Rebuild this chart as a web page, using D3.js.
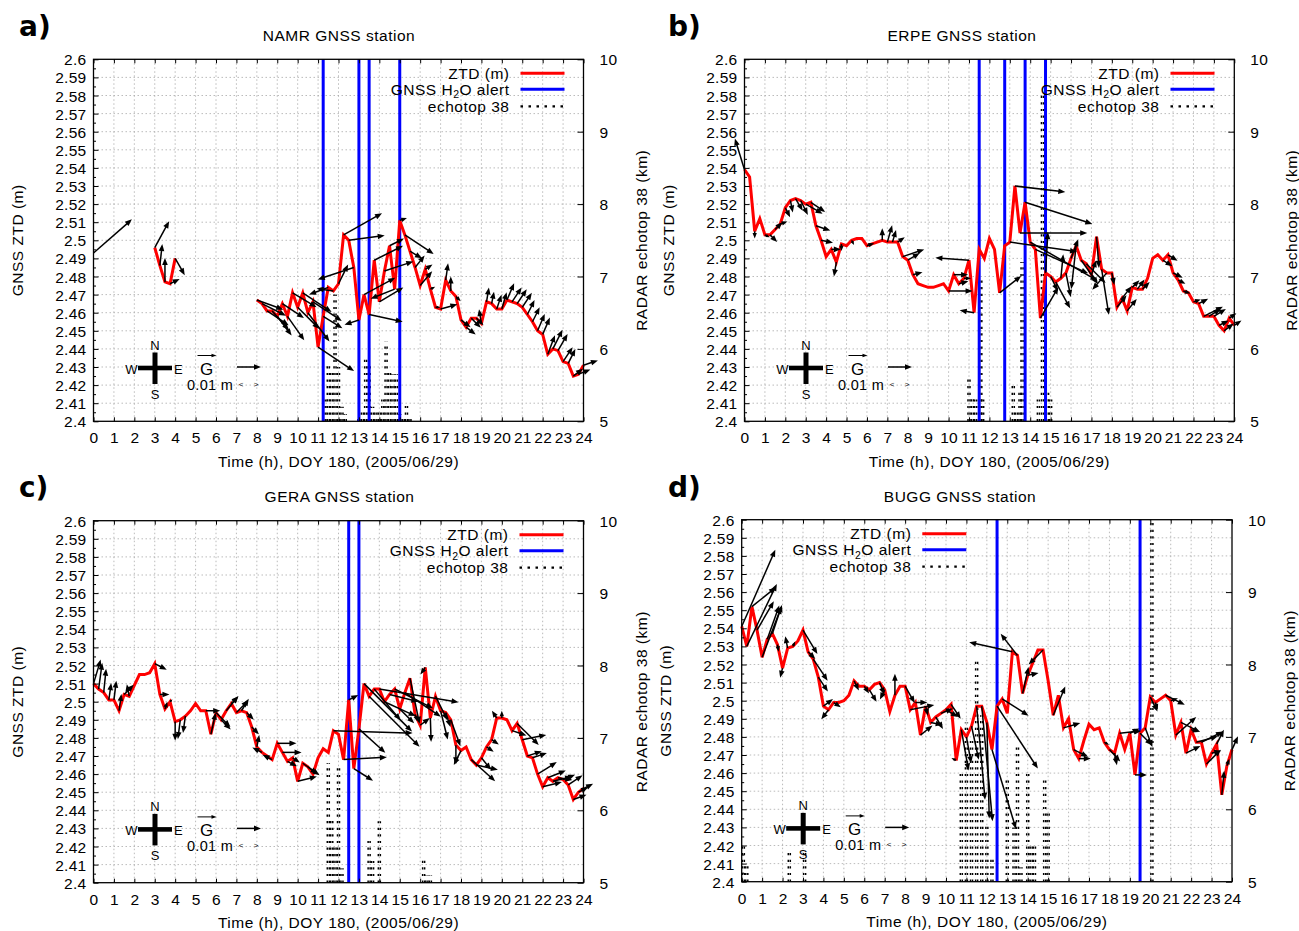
<!DOCTYPE html>
<html><head><meta charset="utf-8">
<script src="https://cdn.jsdelivr.net/npm/d3@7"></script>
<style>
body{margin:0;background:#fff;}
svg{display:block;}
</style></head><body>
<svg id="chart" width="1299" height="931"></svg>
<script>
// ---------------- DATA ----------------
// 15-minute sampling, 0h .. 24h (97 epochs)
const hours = d3.range(0, 97).map(i => i * 0.25);
const xTicks = d3.range(0, 25);
const yTicks = d3.range(0, 21).map(i => +(2.4 + i * 0.01).toFixed(2));
const yMinorTicks = d3.range(0, 20).map(i => +(2.405 + i * 0.01).toFixed(3));
const y2Ticks = [5, 6, 7, 8, 9, 10];

// NAMR
const namrZTD = [2.493,
 null,null,null,null,null,null,null,null,null,null,null,
 2.496,2.486,2.477,2.476,2.490,
 null,null,null,null,null,null,null,null,null,null,null,null,null,null,null,
 2.467,2.465,2.461,2.461, 2.458,2.465,2.458,2.471, 2.463,2.471,2.460,2.466,
 2.441,2.458,2.474,2.472, 2.476,2.503,2.500,2.485, 2.456,2.470,2.459,2.489,
 2.466,2.483,2.497,2.473, 2.511,2.503,2.494,2.485, 2.475,2.484,2.473,2.463,
 2.462,2.478,2.472,2.469, 2.456,2.452,2.457,2.457, 2.454,2.466,2.465,2.462,
 2.462,2.467,2.466,2.465, 2.463,2.459,2.455,2.450, 2.448,2.437,2.440,2.439,
 2.433,2.432,2.425,2.426, 2.431];
const namrGradE = [16, 0,0,0,0,0,0,0,0,0,0,0, 6,1,0,4,4, 0,0,0,0,0,0,0,0,0,0,0,0,0,0,0,
 11,10,9,7, 6,9,7,10, 9,12,9,12, 15,8,-8,-7, 4,16,15,-15, -6,13,14,12,
 10,12,6,-10, 3,12,5,4, 5,3,2,2, 7,1,0,2, 4,4,4,3, -1,1,1,2,
 2,3,4,4, 4,3,3,3, 3,3,4,4, 4,3,4,5, 6];
const namrGradN = [14, 0,0,0,0,0,0,0,0,0,0,0, 11,9,10,2,-7, 0,0,0,0,0,0,0,0,0,0,0,0,0,0,0,
 -4,-5,-6,-8, -8,-6,-10,-6, -9,-8,-12,-8, -10,-5,-3,1, 8,9,2,-5, -2,7,-3,6,
 6,4,3,-4, 1,-8,-3,5, 6,2,1,0, 2,7,6,-2, -3,-3,-4,-3, 6,6,5,6,
 7,7,6,6, 6,6,6,7, 7,8,8,7, 6,6,3,2, 2];
const namrEchoH  = [11.33,11.5,11.67,11.83,12.0,12.17,12.33,13.0,13.17,13.33,13.5,13.67,13.83,14.0,14.17,14.33,14.5,14.67,14.83,15.0,15.17,15.33,15.5];
const namrEchoKm = [5.3,5.8,5.7,6.75,5.75,5.2,5.1,5.05,5.15,5.9,5.8,5.2,5.15,5.15,5.3,6.1,5.7,5.65,5.65,5.1,5.05,5.25,5.05];
const namrAlerts = [11.25, 13.0, 13.5, 15.0];

// ERPE
const erpeZTD = [2.539,2.535,2.505,2.512, 2.503,2.503,2.506,2.509, 2.518,2.522,2.523,2.522,
 2.520,2.521,2.508,2.500, 2.491,2.495,2.488,2.498, 2.497,2.500,2.501,2.501,
 2.497,2.498,2.499,2.500, 2.499,2.499,2.499,2.491, 2.489,2.481,2.476,2.475,
 2.474,2.474,2.475,2.476, 2.472,2.481,2.476,2.479, 2.489,2.460,2.495,2.490,
 2.501,2.495,2.471,2.497, 2.499,2.530,2.504,2.521, 2.499,2.495,2.457,2.482,
 2.480,2.477,2.479,2.482, 2.490,2.497,2.489,2.487, 2.481,2.502,2.484,2.482,
 2.482,2.463,2.468,2.461, 2.474,2.473,2.473,2.479, 2.490,2.492,2.489,2.492,
 2.482,2.478,2.472,2.471, 2.466,2.465,2.458,2.458, 2.458,2.453,2.450,2.457, 2.453];
const erpeGradE = [-4,0,0,0, 2,3,3,3, 2,1,3,3, 7,6,6,5, 0,4,-1,0, 0,1,0,0,
 3,0,0,0, 2,1.5,3,9, 5,4,0,0, 0,0,0,0, 10,6,4,3, -14,-6,0,0,
 0,0,9,0, 28,21,28,28, 28,22,7.5,1, 3,6,1,2, 3,-2,7,8, 2,1,3,-6,
 1,4,4,4, 3,3,3,0, 0,0,4,4, 4,3,3,0, 3,4,8,5, 5,4,4,3, 3];
const erpeGradN = [13,0,-3,0, -1,-3,3,1, -4,-5,-5,-6, -4,-4,-2,-1, 0,0,-6,-3, 0,-2,0,0,
 1,0,0,5, 7,5,2,3, 3,1,0,0, 0,0,0,0, 0,0,1,0, 1,1,0,0,
 0,0,7,0, -4,-2.5,0,-9, -16,-10,13,17, -6,-11,10,-10, 8,-18,-10,-8, 6,-13,-19,-7,
 -5,5,5,5, 3,4,3,0, 0,0,-2.5,-2.5, -2,-1.5,-1,0, 1,2,4,3, 3,2,3,2, 2];
const erpeEchoH  = [11.0,11.17,11.33,11.58,11.67,13.17,13.33,13.5,13.6,14.4,14.6,14.85,15.0];
const erpeEchoKm = [5.6,5.35,5.3,7.0,5.3,5.5,5.15,5.4,7.2,5.3,9.5,5.4,5.3];
const erpeAlerts = [11.5, 12.75, 13.75, 14.75];

// GERA
const geraZTD = [2.510,2.507,2.505,2.501, 2.501,2.495,2.504,2.503, 2.509,2.515,2.515,2.516,
 2.521,2.504,2.496,2.500, 2.489,2.490,2.492,2.495, 2.499,2.495,2.495,2.482,
 2.494,2.490,2.495,2.499, 2.494,2.495,2.494,2.486, 2.475,2.472,2.470,2.468,
 2.477,2.472,2.467,2.469, 2.456,2.466,2.464,2.460, 2.469,2.474,2.472,2.484,
 2.482,2.468,2.501,2.463, 2.485,2.510,2.503,2.507, 2.507,2.500,2.504,2.507,
 2.496,2.505,2.513,2.493, 2.487,2.519,2.491,2.503, 2.495,2.494,2.490,2.476,
 2.473,2.475,2.468,2.465, 2.469,2.475,2.479,2.491, 2.491,2.490,2.484,2.488,
 2.479,2.470,2.469,2.460, 2.453,2.458,2.456,2.458, 2.457,2.454,2.446,2.450, 2.452];
const geraGradE = [3,1.5,1,1, 1,1,4,-1, 0,0,0,0, 5,4,1,1, 0,-1,-1,0, 0,0,6,2,
 6,4,5,3, 5,3,3,3, 1,-4,0,-4, 8,8,4,3, 8,7,4,0, 0,0,0,33,
 0,18,4,8, 11,20,21,11, 33,13,12,16, 6,15,4,1, 4,-2,0.3,5, 3,2,4,0,
 -3,0,10,9, 4,3,3,-2, 0,0,6,9, 10,6,6,8, 8,7.5,8,6, 5,6,5.5,4, 4];
const geraGradN = [10,11,10,7, 8,7,4,5, 0,0,0,0, -2.5,0,3,1, -8,-8,-7,0, 0,0,0,9,
 -6,-4,6,3, 5,5,-3,-3, 5,2,0,2, 0,0,-2,-2, 2,-5,-3,0, 0,0,0,-1,
 0,1,2,-5, -10,-20,-21,-13, -5.5,-6,-3,-8, -6,-10,-19,-3, 3,-3,-10,-10, -12,-6,-11,-8,
 -6,0,-9,-2, -5,-2,-2,3, 3,0,-2,-9, 2,2,2,5, 2,3,2,-1, 2,4,2,2, 2];
const geraEchoH  = [11.5,11.67,11.83,12.0,12.17,13.5,13.67,14.0,16.17,16.33,16.5];
const geraEchoKm = [6.65,5.9,5.5,6.6,5.2,5.6,5.3,5.85,5.35,5.1,5.1];
const geraAlerts = [12.5, 13.0];

// BUGG
const buggZTD = [2.541,2.530,2.552,2.539, 2.524,2.534,2.537,2.531, 2.518,2.529,2.530,2.533,
 2.539,2.527,2.523,2.513, 2.497,2.495,2.499,2.499, 2.500,2.503,2.511,2.508,
 2.508,2.506,2.509,2.510, 2.506,2.494,2.503,2.508, 2.508,2.495,2.499,2.481,
 2.497,2.488,2.491,2.493, 2.495,2.498,2.467,2.484, 2.480,2.486,2.497,2.497,
 2.488,2.473,2.497,2.501, 2.493,2.527,2.525,2.504, 2.514,2.521,2.528,2.528,
 2.511,2.492,2.503,2.485, 2.490,2.473,2.468,2.478, 2.487,2.484,2.485,2.477,
 2.473,2.471,2.482,2.473, 2.482,2.459,2.482,2.485, 2.502,2.499,2.501,2.503,
 2.500,2.481,2.488,2.471, 2.484,2.477,2.477,2.465, 2.471,2.476,2.448,2.464, 2.473];
const buggGradE = [14,12.5,10,7, 8,5,4,0.5, -1,-1,1,0, 6,3,6,4, 4,-3,3,0, 0,0,2,0,
 2,3,0,2, -2,0,0,0, 4,10,5,5, 1,5,3,5, 5,4,-2,3, 2,3,3.5,4.5,
 1,10,17,11, 0,-18,-7,2.5, 4.5,0,0,-6, 0,5,0,7, 0,6,5,0, 0,0,0,2,
 4.5,1,9,0, 4,5,5,3, 3,1,0,8, 3,8.5,8,6, 3,9,9,6, 4,3,1,1, 2.5];
const buggGradN = [32,26,8,12, 21,14,12,-3, -4,5,2,0, -10,-3,-9,-6, 3,-4,-2,0, 0,0,-4,0,
 -3,-5,0,-5, -4,0,9,0, -7,2,0,4, -4,-1,-5,2, -3,-6,1,-17, -11,-14,-39,-48,
 -40,-33,-26,-7, 0,4,9,11, 1,0,0,-6, 0,12,0,2, 0,-3,0,0, 0,0,0,-1,
 -5,-5,1,0, 2,0,-5,-8, -6,-3,0,-4, 1,7.5,-4,3, -1,2.5,4.5,6, 1,6,10,3, 5.5];
const buggEchoH  = [0.08,0.25,2.33,3.08,10.75,11.0,11.25,11.5,11.75,12.0,12.25,13.0,13.33,13.5,13.67,14.0,14.17,14.33,14.83,15.0,20.08];
const buggEchoKm = [5.5,5.25,5.4,5.45,6.5,7.2,7.0,8.1,7.3,5.8,5.35,6.45,5.75,6.9,5.2,6.5,5.5,5.5,6.45,6.0,10.0];
const buggAlerts = [12.5, 19.5];

const legendLabels = ["ZTD (m)", "GNSS H2O alert", "echotop 38"];

// ---------------- LAYOUT ----------------
const panels = [
  {label:"a)", title:"NAMR GNSS station", ztd:namrZTD, gE:namrGradE, gN:namrGradN, eH:namrEchoH, eK:namrEchoKm, alerts:namrAlerts,
   box:{l:93.5,r:583.5,t:59.3,b:421.3}, lab:[19,36], titleX:339, titleY:41, legX:416},
  {label:"b)", title:"ERPE GNSS station", ztd:erpeZTD, gE:erpeGradE, gN:erpeGradN, eH:erpeEchoH, eK:erpeEchoKm, alerts:erpeAlerts,
   box:{l:744.5,r:1234.3,t:59.3,b:421.3}, lab:[668,36], titleX:962, titleY:41, legX:415},
  {label:"c)", title:"GERA GNSS station", ztd:geraZTD, gE:geraGradE, gN:geraGradN, eH:geraEchoH, eK:geraEchoKm, alerts:geraAlerts,
   box:{l:93.5,r:583.5,t:520.7,b:882.7}, lab:[19,497], titleX:339.5, titleY:502, legX:415},
  {label:"d)", title:"BUGG GNSS station", ztd:buggZTD, gE:buggGradE, gN:buggGradN, eH:buggEchoH, eK:buggEchoKm, alerts:buggAlerts,
   box:{l:741.7,r:1232,t:519.7,b:881.7}, lab:[668,497], titleX:960, titleY:502, legX:169.6}
];

const FONT = '"Liberation Sans", Arial, Helvetica, sans-serif';
const FS = 15.5, LS = 0.5;
const svg = d3.select('#chart');

function drawArrow(sel, x1, y1, x2, y2, hl, hw, sw) {
  const dx = x2 - x1, dy = y2 - y1, len = Math.hypot(dx, dy);
  if (len < 0.5) return;
  const ux = dx / len, uy = dy / len;
  const h = Math.min(hl, len * 0.75), w = hw * h / hl;
  const bx = x2 - ux * h, by = y2 - uy * h;
  sel.append('line').attr('x1', x1).attr('y1', y1).attr('x2', bx + ux).attr('y2', by + uy)
    .attr('stroke', '#000').attr('stroke-width', sw);
  sel.append('path').attr('d', `M${x2},${y2}L${bx - uy * w},${by + ux * w}L${bx + uy * w},${by - ux * w}Z`)
    .attr('fill', '#000');
}

function styleText(s, size, ls) {
  s.attr('font-family', FONT).attr('font-size', size).attr('fill', '#000')
   .attr('letter-spacing', ls == null ? LS : ls);
}

function drawPanel(p) {
  const {l, r, t, b} = p.box;
  const g = svg.append('g');
  const x = d3.scaleLinear().domain([0, 24]).range([l, r]);
  const y = d3.scaleLinear().domain([2.4, 2.6]).range([b, t]);
  const y2 = d3.scaleLinear().domain([5, 10]).range([b, t]);
  const gs = d3.scaleLinear().domain([0, 10]).range([0, 24]); // gradient mm -> px (0.01 m reference)

  // grid
  const grid = g.append('g').attr('stroke', '#aaaaaa').attr('stroke-width', 0.8).attr('stroke-dasharray', '1.5,2.5');
  grid.selectAll('.vg').data(xTicks.filter(d => d > 0 && d < 24)).join('line')
    .attr('x1', d => x(d)).attr('x2', d => x(d)).attr('y1', t).attr('y2', b);
  grid.selectAll('.hg').data(yTicks.filter(d => d > 2.4 && d < 2.6)).join('line')
    .attr('x1', l).attr('x2', r).attr('y1', d => y(d)).attr('y2', d => y(d));

  // echotop impulses (dotted)
  const eg = g.append('g');
  p.eH.forEach((h, i) => {
    [-1.0, 1.0].forEach(off => {
      eg.append('line').attr('x1', x(h) + off).attr('x2', x(h) + off)
        .attr('y1', y2(5)).attr('y2', y2(p.eK[i]))
        .attr('stroke', '#000').attr('stroke-width', 1.5).attr('stroke-dasharray', '2.2,4.4');
    });
  });

  // alerts
  g.append('g').selectAll('line').data(p.alerts).join('line')
    .attr('x1', d => x(d)).attr('x2', d => x(d)).attr('y1', t).attr('y2', b)
    .attr('stroke', '#0000ff').attr('stroke-width', 3);

  // ZTD
  const pts = hours.map((h, i) => ({h, v: p.ztd[i], e: p.gE[i], n: p.gN[i]}));
  g.append('path').datum(pts)
    .attr('d', d3.line().defined(d => d.v != null).x(d => x(d.h)).y(d => y(d.v)))
    .attr('fill', 'none').attr('stroke', '#ff0000').attr('stroke-width', 3).attr('stroke-linejoin', 'miter');

  // gradient arrows
  const ag = g.append('g');
  pts.forEach(d => {
    if (d.v == null || (d.e === 0 && d.n === 0)) return;
    const x1 = x(d.h), y1 = y(d.v);
    drawArrow(ag, x1, y1, x1 + gs(d.e), y1 - gs(d.n), 7, 2.8, 1.5);
  });

  // border
  g.append('rect').attr('x', l).attr('y', t).attr('width', r - l).attr('height', b - t)
    .attr('fill', 'none').attr('stroke', '#000').attr('stroke-width', 1.3);

  // axes
  const ax = g.append('g').attr('transform', `translate(0,${b})`)
    .call(d3.axisBottom(x).tickValues(xTicks).tickSize(-4).tickPadding(0).tickFormat(d3.format('d')));
  ax.select('.domain').remove();
  styleText(ax.selectAll('text').attr('y', 22).attr('dy', null), FS, 0.2);

  const axT = g.append('g').attr('transform', `translate(0,${t})`)
    .call(d3.axisTop(x).tickValues(xTicks).tickSize(-4).tickFormat(''));
  axT.select('.domain').remove();

  const ay = g.append('g').attr('transform', `translate(${l},0)`)
    .call(d3.axisLeft(y).tickValues(yTicks).tickSize(-5).tickPadding(7).tickFormat(d => String(+d.toFixed(2))));
  ay.select('.domain').remove();
  styleText(ay.selectAll('text').attr('dy', '0.36em'), FS, 0.3);

  const aym = g.append('g').attr('transform', `translate(${l},0)`)
    .call(d3.axisLeft(y).tickValues(yMinorTicks).tickSize(-2.5).tickFormat(''));
  aym.select('.domain').remove();

  const ay2 = g.append('g').attr('transform', `translate(${r},0)`)
    .call(d3.axisRight(y2).tickValues(y2Ticks).tickSize(-6).tickPadding(16).tickFormat(d3.format('d')));
  ay2.select('.domain').remove();
  styleText(ay2.selectAll('text').attr('dy', '0.36em'), FS, 0.3);

  // axis titles
  const cx = (l + r) / 2, cy = (t + b) / 2;
  styleText(g.append('text').attr('x', cx).attr('y', b + 45.5).attr('text-anchor', 'middle')
    .text('Time (h), DOY 180, (2005/06/29)'), FS);
  styleText(g.append('text').attr('transform', `translate(${l - 70.5},${cy}) rotate(-90)`)
    .attr('text-anchor', 'middle').text('GNSS ZTD (m)'), FS);
  styleText(g.append('text').attr('transform', `translate(${r + 63},${cy}) rotate(-90)`)
    .attr('text-anchor', 'middle').text('RADAR echotop 38 (km)'), FS);

  // title & panel label
  styleText(g.append('text').attr('x', p.titleX).attr('y', p.titleY).attr('text-anchor', 'middle').text(p.title), FS);
  g.append('text').attr('x', p.lab[0]).attr('y', p.lab[1]).text(p.label)
    .attr('font-family', '"DejaVu Sans", sans-serif').attr('font-weight', 'bold').attr('font-size', 28).attr('fill', '#000');

  // legend
  const lx = l + p.legX;
  const rows = [t + 14, t + 30, t + 47];
  const lt1 = g.append('text').attr('x', lx).attr('y', rows[0] + 5.5).attr('text-anchor', 'end').text(legendLabels[0]);
  styleText(lt1, FS);
  const lt2 = g.append('text').attr('x', lx).attr('y', rows[1] + 5.5).attr('text-anchor', 'end');
  styleText(lt2, FS);
  lt2.append('tspan').text('GNSS H');
  lt2.append('tspan').attr('dy', 3.5).attr('font-size', 10.5).text('2');
  lt2.append('tspan').attr('dy', -3.5).text('O alert');
  const lt3 = g.append('text').attr('x', lx).attr('y', rows[2] + 5.5).attr('text-anchor', 'end').text(legendLabels[2]);
  styleText(lt3, FS);
  g.append('line').attr('x1', lx + 11).attr('x2', lx + 55).attr('y1', rows[0]).attr('y2', rows[0])
    .attr('stroke', '#ff0000').attr('stroke-width', 3);
  g.append('line').attr('x1', lx + 11).attr('x2', lx + 55).attr('y1', rows[1]).attr('y2', rows[1])
    .attr('stroke', '#0000ff').attr('stroke-width', 3);
  g.append('line').attr('x1', lx + 11).attr('x2', lx + 55).attr('y1', rows[2]).attr('y2', rows[2])
    .attr('stroke', '#000').attr('stroke-width', 2.2).attr('stroke-dasharray', '2.5,5.5');

  // compass & scale
  const ccx = l + 61.5, ccy = t + 308.7;
  const cg = g.append('g');
  cg.append('rect').attr('x', ccx - 17).attr('y', ccy - 2.3).attr('width', 34).attr('height', 4.6).attr('fill', '#000');
  cg.append('rect').attr('x', ccx - 2.5).attr('y', ccy - 15.5).attr('width', 5).attr('height', 31.5).attr('fill', '#000');
  styleText(cg.append('text').attr('x', ccx).attr('y', ccy - 18.5).attr('text-anchor', 'middle').text('N'), 13, 0);
  styleText(cg.append('text').attr('x', ccx).attr('y', ccy + 30.5).attr('text-anchor', 'middle').text('S'), 13, 0);
  styleText(cg.append('text').attr('x', ccx - 17.5).attr('y', ccy + 5.5).attr('text-anchor', 'end').text('W'), 13, 0);
  styleText(cg.append('text').attr('x', ccx + 19).attr('y', ccy + 5.5).attr('text-anchor', 'start').text('E'), 13, 0);
  styleText(cg.append('text').attr('x', ccx + 51.5).attr('y', ccy + 6.5).attr('text-anchor', 'middle').text('G'), 17, 0);
  drawArrow(cg, ccx + 42.5, ccy - 12.5, ccx + 61.5, ccy - 12.5, 5, 1.8, 1);
  drawArrow(cg, ccx + 82, ccy - 1, ccx + 82 + gs(10), ccy - 1, 7, 2.8, 1.5);
  styleText(cg.append('text').attr('x', ccx + 32).attr('y', ccy + 22).text('0.01 m'), 14.5, 0.3);
  styleText(cg.append('text').attr('x', ccx + 86).attr('y', ccy + 19).attr('text-anchor', 'middle').text('<'), 8, 0);
  styleText(cg.append('text').attr('x', ccx + 101).attr('y', ccy + 19).attr('text-anchor', 'middle').text('>'), 8, 0);
}

panels.forEach(drawPanel);
</script>
</body></html>
